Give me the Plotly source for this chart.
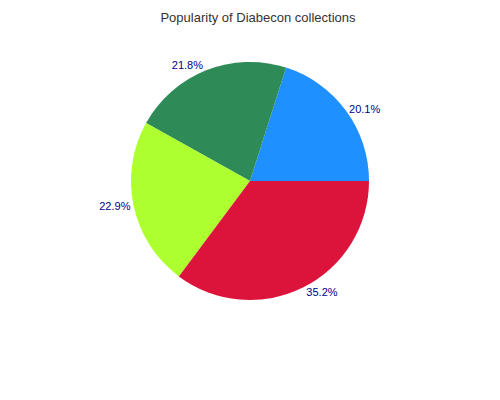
import plotly.graph_objects as go

labels = ["Collection A", "Collection B", "Collection C", "Collection D"]
values = [20.1, 21.8, 22.9, 35.2]
colors = ["#1e90ff", "#2e8b57", "#adff2f", "#dc143c"]

fig = go.Figure(go.Pie(
    labels=labels, values=values, sort=False, direction="counterclockwise",
    rotation=17.64, marker=dict(colors=colors),
    textposition="outside", texttemplate="%{percent:.1%}",
    textfont=dict(color="#00008b", size=11, family="Liberation Sans, Arial"),
    domain=dict(x=[0.246, 0.722], y=[0.27, 0.865]),
    showlegend=False, hoverinfo="label+percent",
))
fig.update_layout(
    width=500, height=400, margin=dict(l=0, r=0, t=0, b=0),
    paper_bgcolor="white", plot_bgcolor="white",
    title=dict(text="Popularity of Diabecon collections", x=0.5, y=0.988, xanchor="center", yanchor="top",
               font=dict(size=13, color="#333333", family="Liberation Sans, Arial")),
)
fig.write_html("out.html")
